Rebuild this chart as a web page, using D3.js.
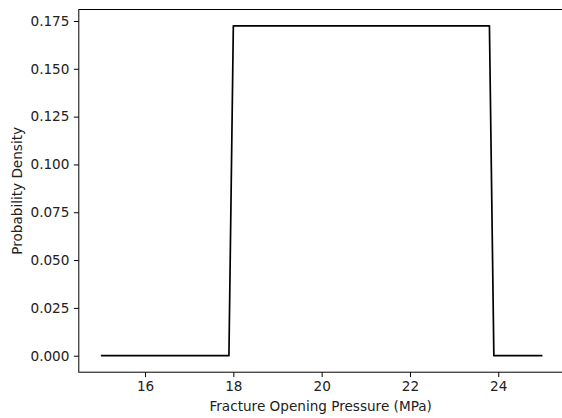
<!doctype html>
<html>
<head>
<style>
    body { margin: 0; background: #fff; }
    svg text { font-family: "DejaVu Sans", sans-serif; }
</style>
</head>
<body>
<div id="chart"></div>
<script src="https://d3js.org/d3.v7.min.js"></script>
<script>
// breakpoints of the plotted curve
var pressure = [15, 17.9, 18.0, 23.8, 23.9, 25];
var density  = [0, 0, 0.1724, 0.1724, 0, 0];
var xTicks = [16, 18, 20, 22, 24];
var yTicks = [0, 0.025, 0.05, 0.075, 0.1, 0.125, 0.15, 0.175];

var W = 562, H = 418;
var plotL = 78.8, plotR = 564.5, plotT = 9.5, plotB = 372.2;
var fs = "13.6px";

var svg = d3.select("#chart").append("svg")
    .attr("width", W)
    .attr("height", H);

var x = d3.scaleLinear().domain([14.5, 25.5]).range([plotL, plotR]);
var y = d3.scaleLinear().domain([-0.00862, 0.181]).range([plotB, plotT]);

var data = pressure.map(function(p, i) { return {p: p, d: density[i]}; });

// x axis
var gx = svg.append("g")
    .attr("transform", "translate(0," + plotB + ")")
    .call(d3.axisBottom(x).tickValues(xTicks).tickSize(4.9).tickPadding(4.5)
        .tickFormat(d3.format("d")));
gx.select(".domain").remove();
gx.selectAll("text").attr("font-size", fs).attr("fill", "#222");
gx.selectAll("line").attr("stroke", "#000").attr("stroke-width", 1);

// y axis
var gy = svg.append("g")
    .attr("transform", "translate(" + plotL + ",0)")
    .call(d3.axisLeft(y).tickValues(yTicks).tickSize(4.9).tickPadding(4.5)
        .tickFormat(d3.format(".3f")));
gy.select(".domain").remove();
gy.selectAll("text").attr("font-size", fs).attr("fill", "#222");
gy.selectAll("line").attr("stroke", "#000").attr("stroke-width", 1);

// curve
svg.append("path")
    .datum(data)
    .attr("fill", "none")
    .attr("stroke", "#000")
    .attr("stroke-width", 1.7)
    .attr("stroke-linejoin", "round")
    .attr("d", d3.line()
        .x(function(d) { return x(d.p); })
        .y(function(d) { return y(d.d); }));

// frame
svg.append("rect")
    .attr("x", plotL)
    .attr("y", plotT)
    .attr("width", plotR - plotL)
    .attr("height", plotB - plotT)
    .attr("fill", "none")
    .attr("stroke", "#000")
    .attr("stroke-width", 1);

// labels
svg.append("text")
    .attr("x", (plotL + plotR) / 2 - 1)
    .attr("y", 410.5)
    .attr("text-anchor", "middle")
    .attr("font-size", fs)
    .attr("fill", "#222")
    .text("Fracture Opening Pressure (MPa)");

svg.append("text")
    .attr("transform", "translate(21.5," + ((plotT + plotB) / 2) + ") rotate(-90)")
    .attr("text-anchor", "middle")
    .attr("font-size", fs)
    .attr("fill", "#222")
    .text("Probability Density");
</script>
</body>
</html>
